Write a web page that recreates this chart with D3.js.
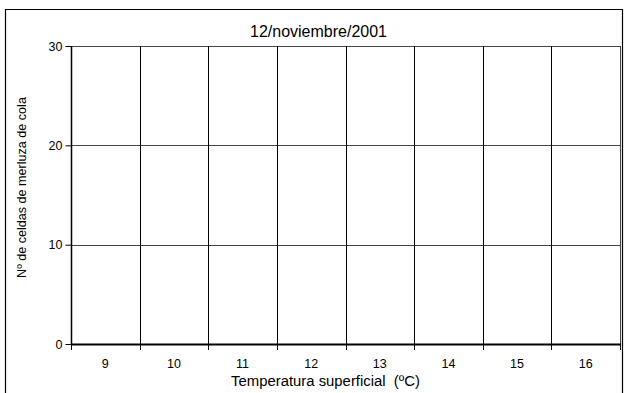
<!DOCTYPE html>
<html><head><meta charset="utf-8">
<script src="https://cdn.jsdelivr.net/npm/d3@7"></script>
<style>html,body{margin:0;padding:0;background:#fff;}svg{display:block;font-family:"Liberation Sans",Arial,sans-serif;}</style>
</head><body>
<script>
const title = "12/noviembre/2001";
const categories = ["9","10","11","12","13","14","15","16"];
const values = [0,0,0,0,0,0,0,0];
const yTicks = [0,10,20,30];
const xTitle = "Temperatura superficial \u00a0(ºC)";
const yTitle = "Nº de celdas de merluza de cola";

const W = 626, H = 393;
const m = {left:71, right:626-620, top:46, bottom:393-344};
const svg = d3.select("body").append("svg").attr("width",W).attr("height",H);

svg.append("path").attr("d","M5.5,400V9.5H622.5V400").attr("fill","none").attr("stroke","#000").attr("stroke-width",1.2);

const x = d3.scaleBand().domain(categories).range([m.left, W-m.right]).padding(0);
const y = d3.scaleLinear().domain([0,30]).range([H-m.bottom, m.top]);

const g = svg.append("g");
g.selectAll(".hg").data(yTicks.filter(d=>d>0)).join("line")
  .attr("x1",m.left).attr("x2",W-m.right).attr("y1",d=>Math.round(y(d))+0.5).attr("y2",d=>Math.round(y(d))+0.5)
  .attr("stroke","#444").attr("stroke-width",1);
const bounds = categories.slice(1).map(c=>x(c));
g.selectAll(".vg").data(bounds).join("line")
  .attr("x1",d=>Math.round(d)+0.5).attr("x2",d=>Math.round(d)+0.5).attr("y1",m.top).attr("y2",H-m.bottom)
  .attr("stroke","#000").attr("stroke-width",1);
g.append("line").attr("x1",W-m.right+0.5).attr("x2",W-m.right+0.5).attr("y1",m.top).attr("y2",H-m.bottom).attr("stroke","#444");

g.selectAll(".bar").data(values).join("rect")
  .attr("x",(d,i)=>x(categories[i])+x.bandwidth()*0.2).attr("width",x.bandwidth()*0.6)
  .attr("y",d=>y(d)).attr("height",d=>y(0)-y(d)).attr("fill","#000");

const ya = d3.axisLeft(y).tickValues(yTicks).tickSize(6).tickPadding(3);
const yg = svg.append("g").attr("transform",`translate(${m.left+0.5},0)`).call(ya);
yg.select(".domain").attr("stroke","#000").attr("stroke-width",1.5).attr("d",`M0,${m.top}V${H-m.bottom}`);
yg.selectAll("text").attr("font-size",12.5).attr("fill","#000").attr("font-family","Liberation Sans, Arial, sans-serif");
yg.selectAll("line").attr("stroke","#000");

const xg = svg.append("g").attr("transform",`translate(0,${H-m.bottom})`);
xg.append("line").attr("x1",m.left).attr("x2",W-m.right+1).attr("y1",0.5).attr("y2",0.5).attr("stroke","#000").attr("stroke-width",2);
const ticksX = categories.map(c=>x(c)).concat([x(categories[categories.length-1])+x.bandwidth()]);
xg.selectAll(".tk").data(ticksX).join("line")
  .attr("x1",d=>Math.round(d)+0.5).attr("x2",d=>Math.round(d)+0.5).attr("y1",0).attr("y2",6).attr("stroke","#000");
xg.selectAll(".lb").data(categories).join("text")
  .attr("x",d=>x(d)+x.bandwidth()/2).attr("y",24).attr("text-anchor","middle").attr("font-size",12.5).text(d=>d);

function fit(sel, target){
  sel.attr("font-size",10);
  const w = sel.node().getComputedTextLength();
  sel.attr("font-size", 10*target/w);
}
fit(svg.append("text").attr("x",318.5).attr("y",36.5).attr("text-anchor","middle").text(title),137);
fit(svg.append("text").attr("x",325.5).attr("y",385.5).attr("text-anchor","middle").text(xTitle),189);
fit(svg.append("text").attr("transform","translate(25.5,187.5) rotate(-90)").attr("text-anchor","middle").text(yTitle),181);
</script>
</body></html>
